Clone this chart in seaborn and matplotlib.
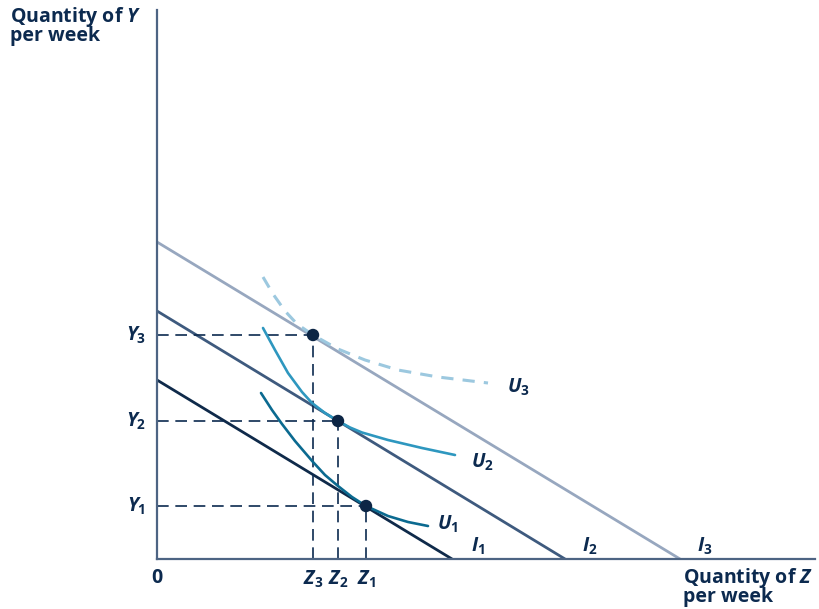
import matplotlib
matplotlib.use("Agg")
import matplotlib.pyplot as plt
import pandas as pd
import seaborn as sns

# budget lines: intercepts on the Y and Z axes
budget_names = ["I1", "I2", "I3"]
budget_y_int = [179, 248, 317]
budget_z_int = [295, 408, 523]

# chosen bundles (Z, Y) for I1, I2, I3
opt_z = [209, 181, 156]
opt_y = [53, 138, 224]

# indifference curves
u1_z = [104, 115, 125, 138, 156, 168, 181, 195, 209, 231, 251, 271]
u1_y = [166, 149, 135, 118, 97, 84, 73, 62, 53, 43, 37, 33]
u2_z = [106, 118, 131, 145, 155, 168, 181, 193, 205, 231, 265, 298]
u2_y = [231, 209, 186, 167, 156, 146, 138, 131.5, 126.5, 119, 111, 104]
u3_z = [106, 116, 128, 140, 156, 181, 208, 241, 281, 331]
u3_y = [282, 265, 248, 235, 224, 210, 199, 189, 182, 176]

sns.set_style("white")
plt.rcParams["font.family"] = ["Open Sans", "DejaVu Sans"]
plt.rcParams["font.weight"] = "bold"
plt.rcParams["mathtext.fontset"] = "custom"
plt.rcParams["mathtext.rm"] = "Open Sans:bold"
plt.rcParams["mathtext.bf"] = "Open Sans:bold"
plt.rcParams["mathtext.it"] = "Open Sans:italic:bold"

txt = "#0c2a4f"
axis_col = "#4d6483"
line_cols = ["#0f2a4a", "#3e5a7e", "#97a7bf"]

fig = plt.figure(figsize=(8.2, 6.09), dpi=100)
ax = fig.add_axes([157 / 820, 50 / 609, 658 / 820, 549 / 609])
ax.set_xlim(0, 658)
ax.set_ylim(0, 549)

# budget lines
for name, yi, zi, c in zip(budget_names, budget_y_int, budget_z_int, line_cols):
    d = pd.DataFrame({"z": [0, zi], "y": [yi, 0]})
    sns.lineplot(data=d, x="z", y="y", ax=ax, color=c, lw=2.0, sort=False)

# dashed guide lines to the axes
for z, y in zip(opt_z, opt_y):
    ax.plot([0, z], [y, y], color=txt, lw=1.2, dashes=(7, 4))
    ax.plot([z, z], [0, y], color=txt, lw=1.2, dashes=(7, 4))

# indifference curves
sns.lineplot(x=u1_z, y=u1_y, ax=ax, color="#0b6a90", lw=1.9, sort=False)
sns.lineplot(x=u2_z, y=u2_y, ax=ax, color="#2e97bf", lw=1.9, sort=False)
sns.lineplot(x=u3_z, y=u3_y, ax=ax, color="#9cc8df", lw=2.2, sort=False,
             dashes=False, linestyle=(0, (4, 3)))

sns.scatterplot(x=opt_z, y=opt_y, ax=ax, color="#0c2545", s=80, zorder=5,
                edgecolor="none")

for s in ["top", "right"]:
    ax.spines[s].set_visible(False)
for s in ["left", "bottom"]:
    ax.spines[s].set_color(axis_col)
    ax.spines[s].set_linewidth(1.6)
ax.set_xticks([])
ax.set_yticks([])
ax.set_xlabel("")
ax.set_ylabel("")

fs = 14
kw = dict(color=txt, fontsize=fs, fontweight="bold", clip_on=False)
ax.text(0, -19, "0", ha="center", va="center", **kw)
for i, (z, y) in enumerate(zip(opt_z, opt_y)):
    n = i + 1
    ax.text(z, -20, rf"$Z_{n}$", ha="center", va="center", **kw)
    ax.text(-11, y, rf"$Y_{n}$", ha="right", va="center", **kw)

ax.text(291, 35, r"$U_1$", ha="center", va="center", **kw)
ax.text(325, 97, r"$U_2$", ha="center", va="center", **kw)
ax.text(361, 172, r"$U_3$", ha="center", va="center", **kw)
ax.text(321, 13, r"$I_1$", ha="center", va="center", **kw)
ax.text(433, 13, r"$I_2$", ha="center", va="center", **kw)
ax.text(548, 13, r"$I_3$", ha="center", va="center", **kw)

ax.text(-147, 554, "Quantity of $Y$\nper week", ha="left", va="top",
        linespacing=0.82, **kw)
ax.text(526, -7, "Quantity of $Z$\nper week", ha="left", va="top",
        linespacing=0.82, **kw)

fig.savefig("out.png", dpi=100)
